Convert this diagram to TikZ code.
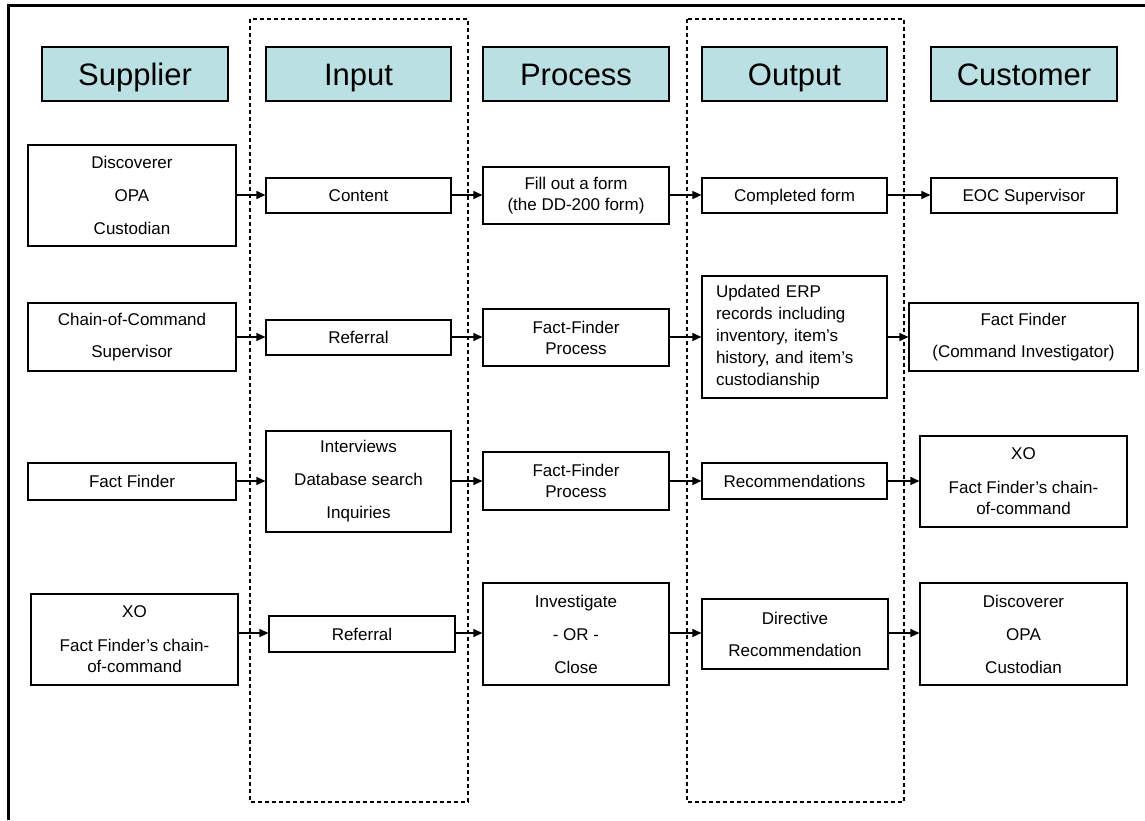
\documentclass[tikz,border=0pt]{standalone}
\usepackage{fontspec}
\setmainfont{Liberation Sans}
\usetikzlibrary{arrows.meta}
\definecolor{hdrcol}{RGB}{186,224,227}
\tikzset{
  hdr/.style={draw, fill=hdrcol, line width=1.2pt, inner sep=0pt,
    minimum height=54pt, text height=22pt, text depth=0pt,
    font=\fontsize{31}{36}\selectfont},
  bx/.style={draw, line width=1.2pt, inner sep=0pt, align=center,
    font=\fontsize{17}{21}\selectfont},
  oneline/.style={bx, text height=12.2pt, text depth=0pt},
  arr/.style={line width=1.2pt, -{Triangle[length=9pt,width=8pt]}},
  lane/.style={draw, line width=1.1pt, dash pattern=on 4pt off 3pt},
  frameline/.style={line width=3pt}
}
\begin{document}
\begin{tikzpicture}[x=1pt,y=1pt]
\useasboundingbox (0,0) rectangle (1145,-820);
% frame (top and left only)
\coordinate (fbl) at (8.5,-820);
\coordinate (ftl) at (8.5,-5.5);
\coordinate (ftr) at (1145,-5.5);
\draw[frameline] (fbl) -- (ftl) -- (ftr);
% dashed lanes
\draw[lane] (250,-19) rectangle (468,-802);
\draw[lane] (687,-19) rectangle (904,-802);
% headers
\node[hdr, minimum width=186pt] (hS) at (135,-74) {Supplier};
\node[hdr, minimum width=185pt] (hI) at (358.5,-74) {Input};
\node[hdr, minimum width=186pt] (hP) at (576,-74) {Process};
\node[hdr, minimum width=185pt] (hO) at (794.5,-74) {Output};
\node[hdr, minimum width=186pt] (hC) at (1024,-74) {Customer};
% row 1
\node[bx, minimum width=208pt, minimum height=101pt] (s1) at (132,-195.5) {Discoverer\\[12pt]OPA\\[12pt]Custodian};
\node[oneline, minimum width=185pt, minimum height=35pt] (i1) at (358.5,-195.5) {Content};
\node[bx, minimum width=186pt, minimum height=57pt] (p1) at (576,-195.5) {Fill out a form\\(the DD-200 form)};
\node[oneline, minimum width=185pt, minimum height=35pt] (o1) at (794.5,-195.5) {Completed form};
\node[oneline, minimum width=186pt, minimum height=35pt] (c1) at (1024,-195.5) {EOC Supervisor};
% row 2
\node[bx, minimum width=208pt, minimum height=68pt] (s2) at (132,-337) {Chain-of-Command\\[11pt]Supervisor};
\node[oneline, minimum width=185pt, minimum height=35pt] (i2) at (358.5,-337.5) {Referral};
\node[bx, minimum width=186pt, minimum height=57pt] (p2) at (576,-337.5) {Fact-Finder\\Process};
\node[bx, minimum height=122pt, text width=157pt, inner xsep=14pt, align=left,
      font=\fontsize{17}{22}\selectfont] (o2) at (794.5,-337)
      {Updated ERP\\records including\\inventory, item's\\history, and item's\\custodianship};
\node[bx, minimum width=229pt, minimum height=68pt] (c2) at (1023.5,-337) {Fact Finder\\[11pt](Command Investigator)};
% row 3
\node[oneline, minimum width=208pt, minimum height=37pt] (s3) at (132,-481.5) {Fact Finder};
\node[bx, minimum width=185pt, minimum height=101pt] (i3) at (358.5,-481.5) {Interviews\\[12pt]Database search\\[12pt]Inquiries};
\node[bx, minimum width=186pt, minimum height=58pt] (p3) at (576,-481) {Fact-Finder\\Process};
\node[oneline, minimum width=185pt, minimum height=36pt] (o3) at (794.5,-481) {Recommendations};
\node[bx, minimum width=207pt, minimum height=91pt] (c3) at (1023.5,-481.5) {XO\\[13pt]Fact Finder's chain-\\of-command};
% row 4
\node[bx, minimum width=207pt, minimum height=91pt] (s4) at (134.5,-639.5) {XO\\[13pt]Fact Finder's chain-\\of-command};
\node[oneline, minimum width=186pt, minimum height=36pt] (i4) at (362,-634) {Referral};
\node[bx, minimum width=186pt, minimum height=102pt] (p4) at (576,-634) {Investigate\\[12pt]- OR -\\[12pt]Close};
\node[bx, minimum width=186pt, minimum height=70pt] (o4) at (795,-634) {Directive\\[11pt]Recommendation};
\node[bx, minimum width=207pt, minimum height=102pt] (c4) at (1023.5,-634) {Discoverer\\[12pt]OPA\\[12pt]Custodian};
% row levels
\coordinate (r1) at (0,-195);
\coordinate (r2) at (0,-337);
\coordinate (r3) at (0,-481);
\coordinate (r4) at (0,-633);
% arrows
\foreach \r in {1,2,3,4}{
  \draw[arr] (s\r.east |- r\r) -- (i\r.west |- r\r);
  \draw[arr] (i\r.east |- r\r) -- (p\r.west |- r\r);
  \draw[arr] (p\r.east |- r\r) -- (o\r.west |- r\r);
  \draw[arr] (o\r.east |- r\r) -- (c\r.west |- r\r);
}
\end{tikzpicture}
\end{document}
